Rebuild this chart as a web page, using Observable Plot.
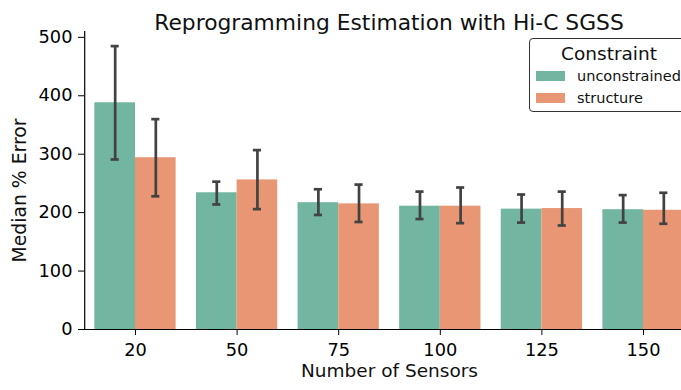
<!DOCTYPE html>
<html>
<head>
<meta charset="utf-8">
<script src="https://cdn.jsdelivr.net/npm/d3@7"></script>
<script src="https://cdn.jsdelivr.net/npm/@observablehq/plot@0.6"></script>
<style>
  html, body { margin: 0; padding: 0; background: #fff; overflow: hidden; }
  #wrap { position: relative; width: 681px; height: 390px; overflow: hidden; font-family: "DejaVu Sans", sans-serif; }
  #chart svg { display: block; overflow: hidden; }
  #legend { position: absolute; left: 529px; top: 38px; width: 175px; height: 74px; box-sizing: border-box;
            border: 1.5px solid #333; border-radius: 4px; background: rgba(255,255,255,0.85); }
  #legend .lt { position: absolute; left: 0; width: 158px; text-align: center; top: 6px; font-size: 18.5px; line-height: 18.5px; color: #111; }
  #legend .sw { position: absolute; left: 6px; width: 29px; height: 10px; }
  #legend .lb { position: absolute; left: 47px; font-size: 14.5px; line-height: 14.5px; color: #111; white-space: nowrap; }
</style>
</head>
<body>
<div id="wrap">
  <div id="chart"></div>
  <div id="legend"></div>
</div>
<script>
// ---- data ----
const sensors = ["20", "50", "75", "100", "125", "150"];
const constraints = ["unconstrained", "structure"];
const colors = ["#72b5a1", "#e99675"];
const unconstrained   = [388, 234, 217, 211, 206, 205];
const unconstrainedLo = [291, 214, 196, 189, 183, 183];
const unconstrainedHi = [485, 253, 240, 236, 231, 230];
const structure   = [294, 256, 215, 211, 207, 204];
const structureLo = [228, 206, 184, 182, 178, 181];
const structureHi = [360, 307, 248, 243, 236, 234];
const yTicks = [0, 100, 200, 300, 400, 500];
const title = "Reprogramming Estimation with Hi-C SGSS";
const xLabel = "Number of Sensors";
const yLabel = "Median % Error";

// ---- table ----
const rows = sensors.flatMap((s, i) => [
  {i, s, c: constraints[0], v: unconstrained[i], lo: unconstrainedLo[i], hi: unconstrainedHi[i], off: -0.2},
  {i, s, c: constraints[1], v: structure[i],     lo: structureLo[i],     hi: structureHi[i],     off:  0.2}
]);
const half = 0.2;   // half of one bar's width in category units
const cap = 0.04;   // half of an error cap's width

const plot = Plot.plot({
  width: 681,
  height: 390,
  marginLeft: 84,
  marginRight: 0,
  marginTop: 31,
  marginBottom: 61,
  style: { fontFamily: "DejaVu Sans", fontSize: "17.8px", color: "#000", background: "#fff" },
  x: { domain: [-0.5, 5.5], range: [84.2, 693.8], ticks: d3.range(sensors.length), tickFormat: i => sensors[i],
       tickSize: 6, tickPadding: 8, label: null },
  y: { domain: [0, 510], ticks: yTicks, tickSize: 6, tickPadding: 6, label: null },
  color: { domain: constraints, range: colors },
  marks: [
    Plot.rectY(rows, { x1: d => d.i + d.off - half, x2: d => d.i + d.off + half, y: "v", fill: "c" }),
    Plot.ruleX(rows, { x: d => d.i + d.off, y1: "lo", y2: "hi", stroke: "#424242", strokeWidth: 2.7 }),
    Plot.ruleY(rows, { y: "hi", x1: d => d.i + d.off - cap, x2: d => d.i + d.off + cap, stroke: "#424242", strokeWidth: 2.7 }),
    Plot.ruleY(rows, { y: "lo", x1: d => d.i + d.off - cap, x2: d => d.i + d.off + cap, stroke: "#424242", strokeWidth: 2.7 }),
    Plot.ruleY([0], { stroke: "#000", strokeWidth: 1.2 }),
    Plot.ruleX([-0.5], { y1: 0, y2: 510, stroke: "#000", strokeWidth: 1.2 }),
    Plot.text([title], { frameAnchor: "top", textAnchor: "middle", dx: 6, dy: -17, fontSize: 21.8, fill: "#111" }),
    Plot.text([xLabel], { frameAnchor: "bottom", textAnchor: "middle", dx: 6.5, dy: 47, fontSize: 18.5, fill: "#111" }),
    Plot.text([yLabel], { frameAnchor: "left", textAnchor: "middle", rotate: -90, dx: -65, dy: 10, fontSize: 18.8, fill: "#111" })
  ]
});
document.getElementById("chart").appendChild(plot);

// ---- legend ----
const legend = document.getElementById("legend");
const lt = document.createElement("div");
lt.className = "lt"; lt.textContent = "Constraint";
legend.appendChild(lt);
constraints.forEach((c, k) => {
  const sw = document.createElement("div");
  sw.className = "sw"; sw.style.background = colors[k]; sw.style.top = (32 + k * 21.5) + "px";
  legend.appendChild(sw);
  const lb = document.createElement("div");
  lb.className = "lb"; lb.textContent = c; lb.style.top = (30 + k * 21.5) + "px";
  legend.appendChild(lb);
});
</script>
</body>
</html>
